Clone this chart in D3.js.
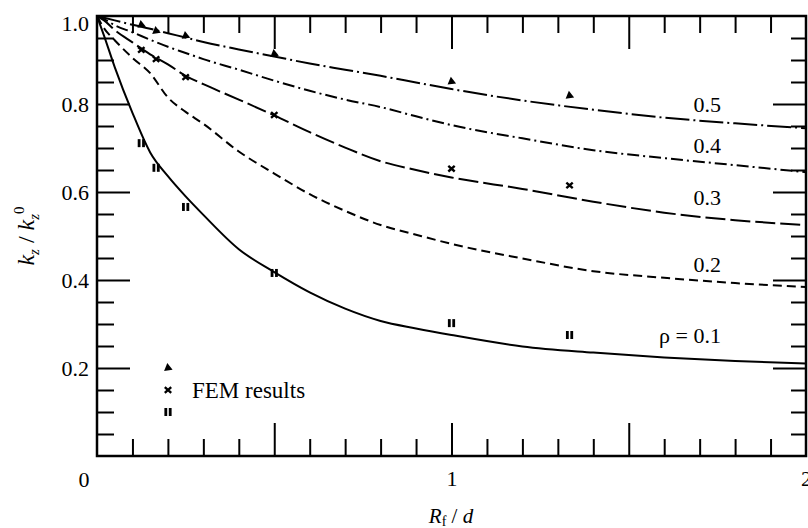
<!DOCTYPE html>
<html>
<head>
<title>kz / kz0 vs Rf / d</title>
<script src="https://cdn.jsdelivr.net/npm/d3@7"></script>
<style>
  body { margin: 0; background: white; }
  text { font-family: "Liberation Serif", "Times New Roman", serif; fill: black; }
</style>
</head>
<body>
<div id="chart"></div>
<script type="text/javascript">

// curves, x = Rf/d, one y array per rho
const rhoValues = [0.1, 0.2, 0.3, 0.4, 0.5];
const curveX = [0, 0.02, 0.05, 0.1, 0.15, 0.2, 0.25, 0.3, 0.4, 0.5, 0.6, 0.7, 0.8, 0.9, 1.0, 1.2, 1.4, 1.6, 1.8, 2.0];
const rho01 = [1.0, 0.955, 0.884, 0.78, 0.69, 0.636, 0.59, 0.548, 0.47, 0.418, 0.372, 0.335, 0.307, 0.29, 0.275, 0.249, 0.235, 0.224, 0.216, 0.210];
const rho02 = [1.0, 0.972, 0.945, 0.905, 0.87, 0.815, 0.782, 0.755, 0.692, 0.642, 0.595, 0.557, 0.525, 0.503, 0.482, 0.449, 0.42, 0.405, 0.393, 0.384];
const rho03 = [1.0, 0.99, 0.968, 0.94, 0.913, 0.89, 0.864, 0.845, 0.81, 0.774, 0.736, 0.701, 0.67, 0.65, 0.633, 0.607, 0.578, 0.553, 0.536, 0.525];
const rho04 = [1.0, 0.993, 0.979, 0.963, 0.946, 0.93, 0.916, 0.902, 0.878, 0.853, 0.83, 0.81, 0.793, 0.772, 0.752, 0.722, 0.695, 0.677, 0.661, 0.645];
const rho05 = [1.0, 0.996, 0.99, 0.98, 0.971, 0.961, 0.951, 0.941, 0.924, 0.908, 0.892, 0.878, 0.864, 0.849, 0.834, 0.808, 0.787, 0.769, 0.756, 0.745];
const curves = [rho01, rho02, rho03, rho04, rho05];

// FEM results
const femX = [0.125, 0.1667, 0.25, 0.5, 1.0, 1.333];
const femTri = [0.98, 0.966, 0.955, 0.914, 0.851, 0.819];   // rho = 0.5
const femCross = [0.923, 0.902, 0.861, 0.775, 0.653, 0.615]; // rho = 0.3
const femBars = [0.711, 0.655, 0.566, 0.416, 0.302, 0.275];  // rho = 0.1

// ticks
const xMajorTicks = [0.5, 1, 1.5];
const xMinorTicks = [0.1, 0.2, 0.3, 0.4, 0.6, 0.7, 0.8, 0.9, 1.1, 1.2, 1.3, 1.4, 1.6, 1.7, 1.8, 1.9];
const xLabels = [1, 2];
const yMajorTicks = [0.2, 0.4, 0.6, 0.8];
const yMinorTicks = [0.05, 0.1, 0.15, 0.25, 0.3, 0.35, 0.45, 0.5, 0.55, 0.65, 0.7, 0.75, 0.85, 0.9, 0.95];
const yLabels = [0.2, 0.4, 0.6, 0.8, 1.0];
const curveLabels = ["ρ = 0.1", "0.2", "0.3", "0.4", "0.5"];

// layout
const width = 808, height = 528;
const mLeft = 97, mRight = 806, mTop = 16, mBottom = 456;
const labelX = 1.76;
const labelY = [0.257, 0.418, 0.57, 0.689, 0.782];
const dashes = [null, "9,5", "20,5", "12,4,2,4", "24,4,2,4"];

const x = d3.scaleLinear().domain([0, 2]).range([mLeft, mRight]);
const y = d3.scaleLinear().domain([0, 1]).range([mBottom, mTop]);

const svg = d3.select("#chart").append("svg")
  .attr("width", width)
  .attr("height", height);

// ticks pointing inward on all four sides
function ticks(axis, tr, vals, len) {
  svg.append("g")
    .attr("transform", tr)
    .call(axis.tickValues(vals).tickSize(-len).tickFormat(""))
    .call(g => g.select(".domain").remove())
    .selectAll("line").attr("stroke", "black").attr("stroke-width", 2);
}
ticks(d3.axisBottom(x), `translate(0,${mBottom})`, xMinorTicks, 17);
ticks(d3.axisBottom(x), `translate(0,${mBottom})`, xMajorTicks, 33);
ticks(d3.axisTop(x), `translate(0,${mTop})`, xMinorTicks, 17);
ticks(d3.axisTop(x), `translate(0,${mTop})`, xMajorTicks, 33);
ticks(d3.axisLeft(y), `translate(${mLeft},0)`, yMinorTicks, 17);
ticks(d3.axisLeft(y), `translate(${mLeft},0)`, yMajorTicks, 33);
ticks(d3.axisRight(y), `translate(${mRight},0)`, yMinorTicks, 15);
ticks(d3.axisRight(y), `translate(${mRight},0)`, yMajorTicks, 33);

svg.append("rect")
  .attr("x", mLeft).attr("y", mTop)
  .attr("width", mRight - mLeft).attr("height", mBottom - mTop)
  .attr("fill", "none").attr("stroke", "black").attr("stroke-width", 2.5);

// tick labels
const yAx = svg.append("g")
  .attr("transform", `translate(${mLeft},0)`)
  .call(d3.axisLeft(y).tickValues(yLabels).tickSize(0).tickPadding(8).tickFormat(d3.format(".1f")));
yAx.select(".domain").remove();
yAx.selectAll("text").attr("font-size", 22).attr("font-family", "Liberation Serif");
yAx.selectAll("text").filter(d => d === 1).attr("dy", "0.66em");

const xAx = svg.append("g")
  .attr("transform", `translate(0,${mBottom})`)
  .call(d3.axisBottom(x).tickValues(xLabels).tickSize(0).tickPadding(14).tickFormat(d3.format("d")));
xAx.select(".domain").remove();
xAx.selectAll("text").attr("font-size", 22).attr("font-family", "Liberation Serif");

svg.append("text").attr("x", 84).attr("y", 487)
  .attr("text-anchor", "middle").attr("font-size", 22).text("0");

// axis titles
const xt = svg.append("text").attr("x", 451).attr("y", 523)
  .attr("text-anchor", "middle").attr("font-size", 21);
xt.append("tspan").attr("font-style", "italic").text("R");
xt.append("tspan").attr("font-size", 14).attr("dy", 3).text("f");
xt.append("tspan").attr("dy", -3).text(" / ");
xt.append("tspan").attr("font-style", "italic").text("d");

const yt = svg.append("text")
  .attr("transform", "translate(34,236) rotate(-90)")
  .attr("text-anchor", "middle").attr("font-size", 24);
yt.append("tspan").attr("font-style", "italic").text("k");
yt.append("tspan").attr("font-style", "italic").attr("font-size", 15).attr("dy", 5).text("z");
yt.append("tspan").attr("dy", -5).text(" / ");
yt.append("tspan").attr("font-style", "italic").text("k");
yt.append("tspan").attr("font-style", "italic").attr("font-size", 15).attr("dy", 5).text("z");
yt.append("tspan").attr("font-size", 15).attr("dy", -15).text("0");

// curves
const line = d3.line()
  .x(d => x(d[0]))
  .y(d => y(d[1]))
  .curve(d3.curveMonotoneX);

curves.forEach((vals, i) => {
  svg.append("path")
    .datum(curveX.map((v, j) => [v, vals[j]]))
    .attr("d", line)
    .attr("fill", "none")
    .attr("stroke", "black")
    .attr("stroke-width", 2)
    .attr("stroke-dasharray", dashes[i]);

  svg.append("text")
    .attr("x", x(labelX)).attr("y", y(labelY[i]))
    .attr("text-anchor", "end").attr("font-size", 22)
    .text(curveLabels[i]);
});

// markers
function tri(cx, cy) {
  svg.append("path")
    .attr("transform", `translate(${cx},${cy}) rotate(-8)`)
    .attr("d", d3.symbol(d3.symbolTriangle, 32)())
    .attr("fill", "black");
}
function cross(cx, cy) {
  svg.append("path")
    .attr("transform", `translate(${cx},${cy})`)
    .attr("d", "M-3.2,-2.8L3.2,2.8M-3.2,2.8L3.2,-2.8")
    .attr("stroke", "black").attr("stroke-width", 2.4).attr("fill", "none");
}
function bars(cx, cy) {
  [-3.6, 0.8].forEach(dx => {
    svg.append("rect")
      .attr("x", cx + dx).attr("y", cy - 4)
      .attr("width", 2.8).attr("height", 8)
      .attr("fill", "black");
  });
}
femX.forEach((v, i) => {
  tri(x(v), y(femTri[i]));
  cross(x(v), y(femCross[i]));
  bars(x(v), y(femBars[i]));
});

// legend
tri(168, 368);
cross(168, 390);
bars(168, 412);
svg.append("text").attr("x", 192).attr("y", 398).attr("font-size", 23).text("FEM results");

</script>
</body>
</html>
